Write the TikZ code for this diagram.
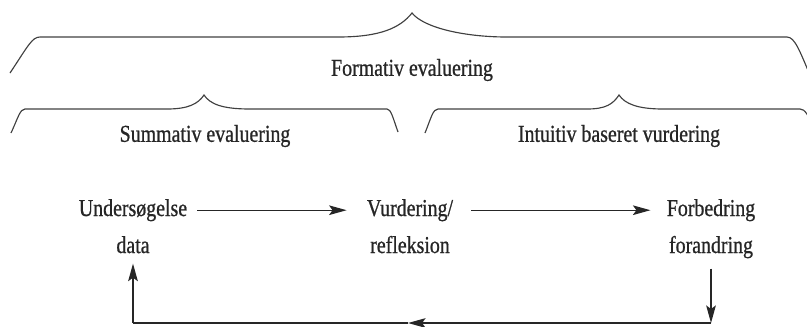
\documentclass[tikz,border=0pt]{standalone}
\usepackage{fontspec}
\setmainfont{Liberation Serif}[FakeStretch=0.82, FakeBold=0.8]
\usepackage{tikz}
\usetikzlibrary{positioning,calc,arrows.meta}

\begin{document}
\begin{tikzpicture}[x=0.2mm, y=-0.2mm,
		lbl/.style={inner sep=0, font=\fontsize{13.8}{15}\selectfont, text=black!85},
		brace/.style={black!75, line width=0.65pt},
		flow/.style={black!85, line width=0.75pt, -{Stealth[length=10pt, width=5.5pt, inset=2pt]}},
		plain/.style={black!85, line width=0.75pt}]
	\useasboundingbox (0,0) rectangle (807,326);
	\clip (0,0) rectangle (807,326);
	% braces
	\draw[brace] (10,73) .. controls (28,46) and (32,37) .. (40,37) -- (338,37)
		.. controls (380,37) and (400,28) .. (412,13) .. controls (424,28) and (465,37) .. (507,37)
		-- (787,37) .. controls (795,37) and (800,52) .. (810,75);
	\draw[brace] (11,133) .. controls (18,118) and (20,109) .. (25,109) -- (167,109)
		.. controls (188,109) and (198,104) .. (204,95) .. controls (210,104) and (222,109) .. (250,109)
		-- (387,109) .. controls (391,109) and (393,118) .. (398,132);
	\draw[brace] (425,133) .. controls (431,118) and (433,109) .. (438,109) -- (587,109)
		.. controls (606,109) and (613,104) .. (619,95) .. controls (625,104) and (638,109) .. (663,109)
		-- (800,109) .. controls (805,109) and (808,115) .. (814,128);
	% labels
	\node[lbl] (form) at (412,70) {Formativ evaluering};
	\node[lbl] (summ) at (205,136) {Summativ evaluering};
	\node[lbl] (intu) at (619,136) {Intuitiv baseret vurdering};
	% cycle
	\node[lbl, anchor=base] (und1) at (133,216) {Undersøgelse};
	\node[lbl, anchor=base] (und2) at (133,253) {data};
	\node[lbl, anchor=base] (vur1) at (410,216) {Vurdering/};
	\node[lbl, anchor=base] (vur2) at (410,253) {refleksion};
	\node[lbl, anchor=base] (for1) at (711,216) {Forbedring};
	\node[lbl, anchor=base] (for2) at (711,253) {forandring};
	\coordinate (br) at (711,323);
	\coordinate (mid) at (408,323);
	\coordinate (bl) at (133,323);
	\draw[flow] ([xshift=10*0.2mm]und1.east) -- ([xshift=-20*0.2mm]vur1.west);
	\draw[flow] ([xshift=18*0.2mm]vur1.east) -- ([xshift=-16*0.2mm]for1.west);
	\draw[flow] ([yshift=-10*0.2mm]for2.south) -- (br);
	\draw[flow] (br) -- (mid);
	\draw[plain] (mid) -- (bl);
	\draw[flow] (bl) -- ([yshift=-10*0.2mm]und2.south);
\end{tikzpicture}
\end{document}
